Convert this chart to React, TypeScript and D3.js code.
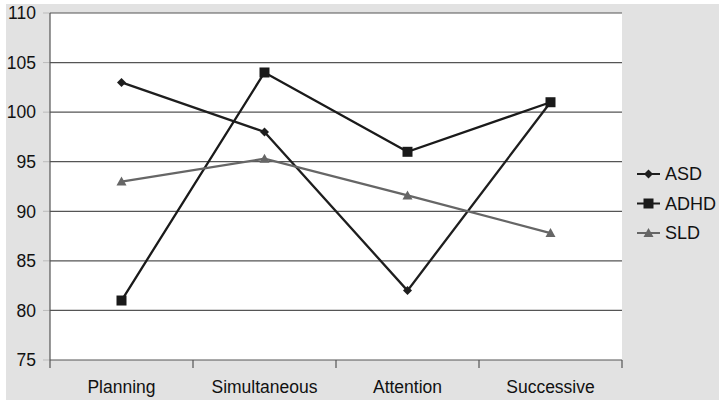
import React from "react";
import * as d3 from "d3";

const categories = ["Planning", "Simultaneous", "Attention", "Successive"];
const asd = [103, 98, 82, 101];
const adhd = [81, 104, 96, 101];
const sld = [93, 95.3, 91.6, 87.8];
const yTicks = [75, 80, 85, 90, 95, 100, 105, 110];

const W = 719;
const H = 400;
const plot = { left: 50, right: 622, top: 13, bottom: 360 };

export default function App() {
  const x = d3
    .scaleBand<string>()
    .domain(categories)
    .range([plot.left, plot.right])
    .padding(0);
  const y = d3.scaleLinear().domain([75, 110]).range([plot.bottom, plot.top]);
  const cx = (c: string) => (x(c) as number) + x.bandwidth() / 2;

  const line = d3
    .line<number>()
    .x((_, i) => cx(categories[i]))
    .y((d) => y(d));

  const series = [
    { name: "ASD", values: asd, color: "#1e1e1e", shape: "diamond" },
    { name: "ADHD", values: adhd, color: "#1a1a1a", shape: "square" },
    { name: "SLD", values: sld, color: "#666666", shape: "triangle" },
  ];

  const marker = (shape: string, px: number, py: number, color: string, key: string) => {
    if (shape === "diamond") {
      const s = 4.5;
      return (
        <path key={key} d={`M${px},${py - s}L${px + s},${py}L${px},${py + s}L${px - s},${py}Z`} fill={color} />
      );
    }
    if (shape === "square") {
      const s = 5;
      return <rect key={key} x={px - s} y={py - s} width={2 * s} height={2 * s} fill={color} />;
    }
    const s = 5;
    return (
      <path key={key} d={`M${px},${py - s}L${px + s},${py + s - 1}L${px - s},${py + s - 1}Z`} fill={color} />
    );
  };

  const font = "'Liberation Sans', Arial, Helvetica, sans-serif";

  return (
    <svg
      width={W}
      height={H}
      style={{ position: "absolute", left: 0, top: 0, display: "block" }}
    >
      <rect x={0} y={0} width={W} height={H} fill="#ffffff" />
      <rect x={6} y={4} width={W - 6} height={H - 4} fill="#e2e2e2" />
      <rect x={plot.left} y={plot.top} width={plot.right - plot.left} height={plot.bottom - plot.top} fill="#ffffff" />
      {yTicks.map((t) => (
        <g key={t}>
          <line x1={plot.left} x2={plot.right} y1={y(t)} y2={y(t)} stroke="#555" strokeWidth={1.2} />
          <line x1={plot.left - 7} x2={plot.left} y1={y(t)} y2={y(t)} stroke="#bbb" strokeWidth={1} />
          <text x={36} y={y(t)} dy="0.36em" textAnchor="end" fontFamily={font} fontSize={17.5} fill="#111">
            {t}
          </text>
        </g>
      ))}
      <line x1={plot.left} x2={plot.left} y1={plot.top} y2={plot.bottom + 8} stroke="#555" strokeWidth={1.2} />
      {categories.map((c) => (
        <g key={c}>
          <line
            x1={(x(c) as number) + x.bandwidth()}
            x2={(x(c) as number) + x.bandwidth()}
            y1={plot.bottom}
            y2={plot.bottom + 8}
            stroke="#555"
            strokeWidth={1.2}
          />
          <text x={cx(c)} y={392.5} textAnchor="middle" fontFamily={font} fontSize={17.5} fill="#111">
            {c}
          </text>
        </g>
      ))}
      {series.map((s) => (
        <g key={s.name}>
          <path d={line(s.values) || ""} fill="none" stroke={s.color} strokeWidth={2.3} />
          {s.values.map((v, i) => marker(s.shape, cx(categories[i]), y(v), s.color, s.name + i))}
        </g>
      ))}
      {series.map((s, i) => {
        const ly = 174 + i * 29.5;
        return (
          <g key={"lg" + s.name}>
            <line x1={637} x2={660} y1={ly} y2={ly} stroke={s.color} strokeWidth={2} />
            {marker(s.shape, 648.5, ly, s.color, "lm" + s.name)}
            <text x={665} y={ly} dy="0.36em" fontFamily={font} fontSize={18} fill="#111">
              {s.name}
            </text>
          </g>
        );
      })}
    </svg>
  );
}
